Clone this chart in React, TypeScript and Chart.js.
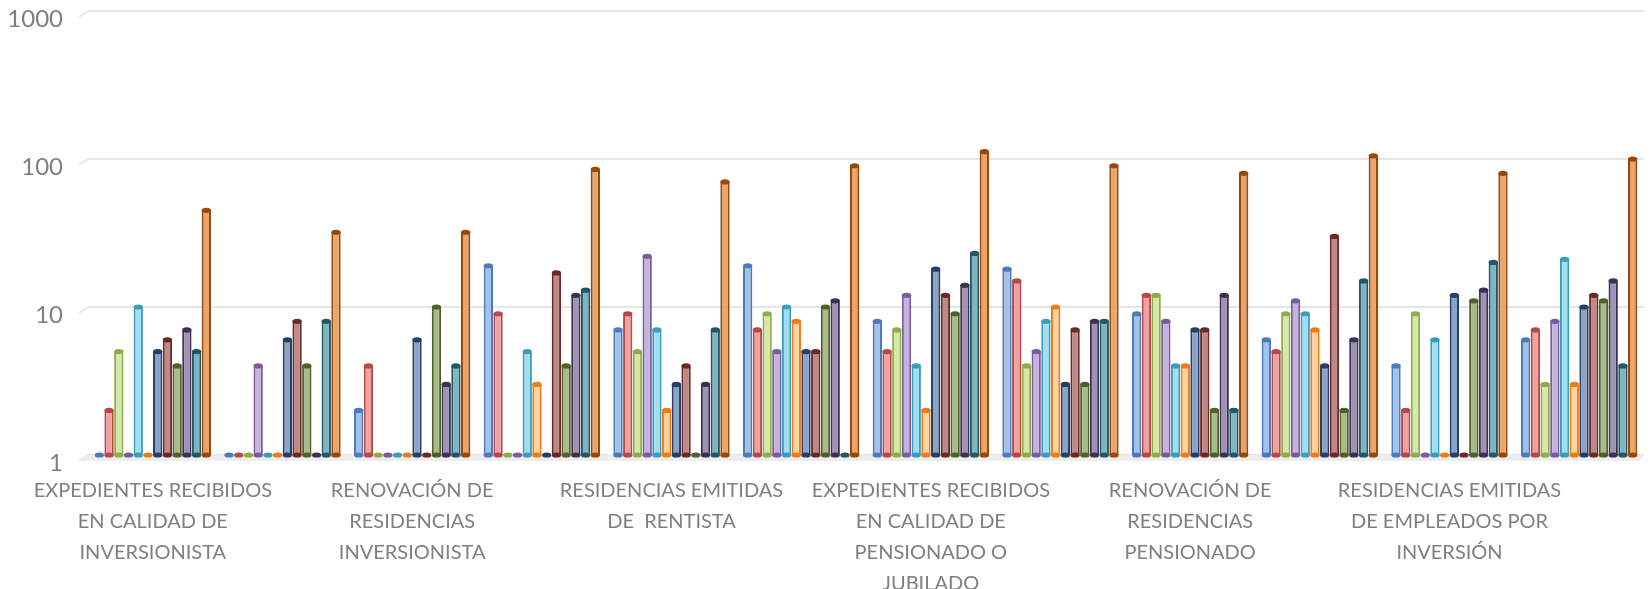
import React, { useEffect, useRef } from "react";
import { Chart, registerables } from "chart.js";

Chart.register(...registerables);

const categories: string[][] = [
  ["EXPEDIENTES RECIBIDOS", "EN CALIDAD DE", "INVERSIONISTA"],
  ["RESIDENCIAS EMITIDAS", "DE INVERSIONISTA"],
  ["RENOVACIÓN DE", "RESIDENCIAS", "INVERSIONISTA"],
  ["EXPEDIENTES RECIBIDOS", "EN CALIDAD DE", "RENTISTA"],
  ["RESIDENCIAS EMITIDAS", "DE  RENTISTA"],
  ["RENOVACIÓN DE", "RESIDENCIAS", "RENTISTA"],
  ["EXPEDIENTES RECIBIDOS", "EN CALIDAD DE", "PENSIONADO O", "JUBILADO"],
  ["RESIDENCIAS EMITIDAS", "DE PENSIONADO"],
  ["RENOVACIÓN DE", "RESIDENCIAS", "PENSIONADO"],
  ["EXPEDIENTES RECIBIDOS", "DE EMPLEADOS POR", "INVERSIÓN"],
  ["RESIDENCIAS EMITIDAS", "DE EMPLEADOS POR", "INVERSIÓN"],
  ["RENOVACIÓN DE", "RESIDENCIAS EMPLEADOS", "POR INVERSIÓN"],
];

const seriesNames = [
  "Serie 1", "Serie 2", "Serie 3", "Serie 4", "Serie 5", "Serie 6",
  "Serie 7", "Serie 8", "Serie 9", "Serie 10", "Serie 11", "Serie 12",
];

const s1 = [1, 1, 2, 19, 7, 19, 8, 18, 9, 6, 4, 6];
const s2 = [2, 1, 4, 9, 9, 7, 5, 15, 12, 5, 2, 7];
const s3 = [5, 1, 1, 1, 5, 9, 7, 4, 12, 9, 9, 3];
const s4 = [1, 4, 1, 1, 22, 5, 12, 5, 8, 11, 1, 8];
const s5 = [10, 1, 1, 5, 7, 10, 4, 8, 4, 9, 6, 21];
const s6 = [1, 1, 1, 3, 2, 8, 2, 10, 4, 7, 1, 3];
const s7 = [5, 6, 6, 1, 3, 5, 18, 3, 7, 4, 12, 10];
const s8 = [6, 8, 1, 17, 4, 5, 12, 7, 7, 30, 1, 12];
const s9 = [4, 4, 10, 4, 1, 10, 9, 3, 2, 2, 11, 11];
const s10 = [7, 1, 3, 12, 3, 11, 14, 8, 12, 6, 13, 15];
const s11 = [5, 8, 4, 13, 7, 1, 23, 8, 2, 15, 20, 4];
const s12 = [45, 32, 32, 85, 70, 90, 112, 90, 80, 105, 80, 100];

const yTicks = [1, 10, 100, 1000];

const fills = [
  "#A4C2E8", "#EDA3A2", "#D6E7A9", "#C4B4DC", "#A3DEEF", "#FDD3A2",
  "#8CA3C3", "#BD8A89", "#A9BA8B", "#9F92B3", "#81B4C0", "#E9A56E",
];
const edges = [
  "#4A7CBC", "#B84845", "#8DAD47", "#7A5C9E", "#3A9DB9", "#F07A14",
  "#23406A", "#6B2826", "#4E6128", "#3E3052", "#1F5866", "#984807",
];

const FONT = "Lato, 'Noto Sans', sans-serif";

const cylinderPlugin = {
  id: "cylinders",
  beforeDatasetsDraw(chart: any) {
    const { ctx, chartArea } = chart;
    const y = chart.scales.y;
    ctx.save();
    ctx.strokeStyle = "#e6e6e6";
    ctx.lineWidth = 2;
    yTicks.forEach((v) => {
      const py = y.getPixelForValue(v);
      ctx.beginPath();
      ctx.moveTo(chartArea.left - 9, py + 6);
      ctx.lineTo(chartArea.left, py);
      ctx.stroke();
    });
    const base = y.getPixelForValue(1);
    ctx.fillStyle = "#ededed";
    ctx.beginPath();
    ctx.moveTo(chartArea.left, base);
    ctx.lineTo(chartArea.right, base);
    ctx.lineTo(chartArea.right - 4, base + 6);
    ctx.lineTo(chartArea.left - 9, base + 6);
    ctx.closePath();
    ctx.fill();
    ctx.restore();
  },
  afterDatasetsDraw(chart: any) {
    const { ctx } = chart;
    ctx.save();
    chart.data.datasets.forEach((_ds: any, i: number) => {
      const meta = chart.getDatasetMeta(i);
      meta.data.forEach((el: any) => {
        const { x, y, base, width } = el.getProps(["x", "y", "base", "width"], true);
        const rx = width / 2;
        ctx.fillStyle = edges[i];
        ctx.beginPath();
        ctx.ellipse(x, base, rx, 2.6, 0, 0, Math.PI * 2);
        ctx.fill();
        if (base - y > 1) {
          ctx.beginPath();
          ctx.ellipse(x, y, rx, 2.6, 0, 0, Math.PI * 2);
          ctx.fill();
        }
      });
    });
    ctx.restore();
  },
};

export default function App() {
  const ref = useRef<HTMLCanvasElement | null>(null);

  useEffect(() => {
    document.body.style.margin = "0";
    const series = [s1, s2, s3, s4, s5, s6, s7, s8, s9, s10, s11, s12];
    const chart = new Chart(ref.current as HTMLCanvasElement, {
      type: "bar",
      data: {
        labels: categories,
        datasets: series.map((d, i) => ({
          label: seriesNames[i],
          data: d,
          backgroundColor: fills[i],
          borderColor: edges[i],
          borderWidth: 2,
          borderSkipped: "bottom",
          categoryPercentage: 0.9,
          barPercentage: 0.96,
        })),
      },
      options: {
        animation: false,
        responsive: true,
        maintainAspectRatio: false,
        layout: { padding: { top: 11, right: 8, left: 0, bottom: 0 } },
        plugins: {
          legend: { display: false },
          tooltip: { enabled: false },
        },
        scales: {
          x: {
            grid: { display: false, drawTicks: false },
            border: { display: false },
            ticks: {
              autoSkip: false,
              maxRotation: 0,
              minRotation: 0,
              color: "#7f7f7f",
              padding: 20,
              font: { family: FONT, size: 20, lineHeight: 1.55 },
              callback: function (this: any, val: any, idx: number) {
                return idx % 2 === 0 ? categories[idx] : "";
              },
            },
            afterFit: (scale: any) => {
              scale.height = 134;
              scale.paddingLeft = 0;
              scale.paddingRight = 0;
            },
          },
          y: {
            type: "logarithmic",
            min: 1,
            max: 1000,
            grid: { color: "#e6e6e6", lineWidth: 2, drawTicks: false },
            border: { display: false },
            afterBuildTicks: (scale: any) => {
              scale.ticks = yTicks.map((v) => ({ value: v }));
            },
            ticks: {
              color: "#7f7f7f",
              padding: 25,
              labelOffset: 8,
              font: { family: FONT, size: 24 },
              callback: (v: any) => String(v),
            },
            afterFit: (scale: any) => {
              scale.width = 88;
              scale.paddingTop = 0;
              scale.paddingBottom = 0;
            },
          },
        },
      },
      plugins: [cylinderPlugin],
    });
    return () => chart.destroy();
  }, []);

  return (
    <div style={{ width: 1652, height: 589, position: "relative" }}>
      <canvas ref={ref} />
    </div>
  );
}
